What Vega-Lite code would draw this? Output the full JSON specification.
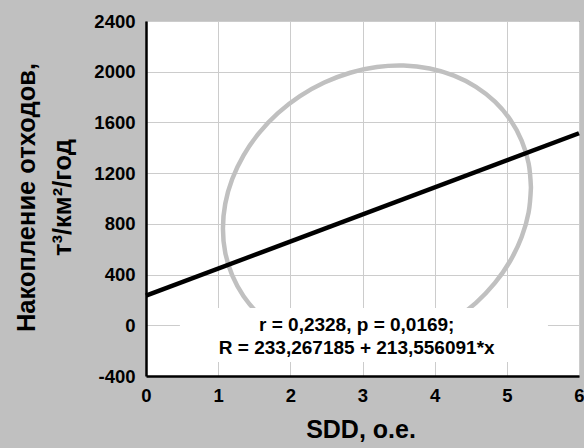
{
  "$schema": "https://vega.github.io/schema/vega-lite/v6.json",
  "width": 433,
  "height": 355,
  "autosize": {"type": "none"},
  "padding": {"left": 146, "top": 21, "right": 5, "bottom": 72},
  "background": "#c0c0c0",
  "config": {
    "view": {"stroke": "black", "strokeWidth": 1, "fill": "white"},
    "axis": {
      "labelFont": "Liberation Sans",
      "labelFontWeight": "bold",
      "labelFontSize": 18.5,
      "labelColor": "black",
      "titleFont": "Liberation Sans",
      "titleFontWeight": "bold",
      "titleColor": "black",
      "gridColor": "#cccccc",
      "gridWidth": 1,
      "gridOpacity": 1,
      "domainColor": "black",
      "domainWidth": 2.5,
      "ticks": false,
      "tickSize": 0,
      "labelExpr": "'' + datum.value"
    }
  },
  "layer": [
    {
      "data": {"values": [
        {"i": 0, "x": 5.334, "y": 1086.7},
        {"i": 1, "x": 5.302, "y": 1277.3},
        {"i": 2, "x": 5.205, "y": 1457.2},
        {"i": 3, "x": 5.048, "y": 1621.0},
        {"i": 4, "x": 4.835, "y": 1763.7},
        {"i": 5, "x": 4.572, "y": 1880.7},
        {"i": 6, "x": 4.267, "y": 1968.9},
        {"i": 7, "x": 3.930, "y": 2025.2},
        {"i": 8, "x": 3.570, "y": 2048.2},
        {"i": 9, "x": 3.200, "y": 2037.0},
        {"i": 10, "x": 2.830, "y": 1992.0},
        {"i": 11, "x": 2.470, "y": 1914.6},
        {"i": 12, "x": 2.133, "y": 1807.1},
        {"i": 13, "x": 1.828, "y": 1672.9},
        {"i": 14, "x": 1.565, "y": 1515.9},
        {"i": 15, "x": 1.352, "y": 1341.0},
        {"i": 16, "x": 1.195, "y": 1153.4},
        {"i": 17, "x": 1.098, "y": 958.9},
        {"i": 18, "x": 1.066, "y": 763.3},
        {"i": 19, "x": 1.098, "y": 572.7},
        {"i": 20, "x": 1.195, "y": 392.8},
        {"i": 21, "x": 1.352, "y": 229.0},
        {"i": 22, "x": 1.565, "y": 86.3},
        {"i": 23, "x": 1.828, "y": -30.7},
        {"i": 24, "x": 2.133, "y": -118.9},
        {"i": 25, "x": 2.470, "y": -175.2},
        {"i": 26, "x": 2.830, "y": -198.2},
        {"i": 27, "x": 3.200, "y": -187.0},
        {"i": 28, "x": 3.570, "y": -142.0},
        {"i": 29, "x": 3.930, "y": -64.6},
        {"i": 30, "x": 4.267, "y": 42.9},
        {"i": 31, "x": 4.572, "y": 177.1},
        {"i": 32, "x": 4.835, "y": 334.1},
        {"i": 33, "x": 5.048, "y": 509.0},
        {"i": 34, "x": 5.205, "y": 696.6},
        {"i": 35, "x": 5.302, "y": 891.1},
        {"i": 36, "x": 5.334, "y": 1086.7}
      ]},
      "mark": {"type": "line", "stroke": "#c0c0c0", "strokeWidth": 4.5, "interpolate": "cardinal"},
      "encoding": {
        "x": {
          "field": "x",
          "type": "quantitative",
          "scale": {"domain": [0, 6], "nice": false, "zero": false},
          "axis": {
            "values": [0, 1, 2, 3, 4, 5, 6],
            "title": "SDD, o.e.",
            "titleFontSize": 25,
            "labelFlush": false,
            "labelOverlap": false,
            "labelBaseline": "alphabetic",
            "labelPadding": 25,
            "titleX": 214.5,
            "titleY": 61,
            "titleAlign": "center",
            "titleBaseline": "alphabetic"
          }
        },
        "y": {
          "field": "y",
          "type": "quantitative",
          "scale": {"domain": [-400, 2400], "nice": false, "zero": false},
          "axis": {
            "values": [-400, 0, 400, 800, 1200, 1600, 2000, 2400],
            "title": ["Накопление отходов,", "т³/км²/год"],
            "titleFontSize": 25.5,
            "labelPadding": 11,
            "labelOverlap": false,
            "titleAngle": 270,
            "titleX": -112,
            "titleY": 176,
            "titleAlign": "center",
            "titleBaseline": "alphabetic",
            "titleLineHeight": 36
          }
        },
        "order": {"field": "i", "type": "quantitative"}
      }
    },
    {
      "data": {"values": [
        {"x": 0, "y": 233.267},
        {"x": 6, "y": 1514.604}
      ]},
      "mark": {"type": "line", "stroke": "black", "strokeWidth": 4.5},
      "encoding": {
        "x": {"field": "x", "type": "quantitative"},
        "y": {"field": "y", "type": "quantitative"}
      }
    },
    {
      "data": {"values": [{"box": "annotation"}]},
      "mark": {"type": "rect", "fill": "white"},
      "encoding": {
        "x": {"datum": 0.47, "type": "quantitative"},
        "x2": {"datum": 5.57},
        "y": {"datum": 136, "type": "quantitative"},
        "y2": {"datum": -290}
      }
    },
    {
      "data": {"values": [
        {"label": "r = 0,2328, p = 0,0169;", "y": 2},
        {"label": "R = 233,267185 + 213,556091*x", "y": -179}
      ]},
      "mark": {"type": "text", "font": "Liberation Sans", "fontWeight": "bold", "fontSize": 19, "align": "center", "baseline": "middle", "fill": "black"},
      "encoding": {
        "x": {"datum": 2.92, "type": "quantitative"},
        "y": {"field": "y", "type": "quantitative"},
        "text": {"field": "label", "type": "nominal"}
      }
    }
  ]
}
